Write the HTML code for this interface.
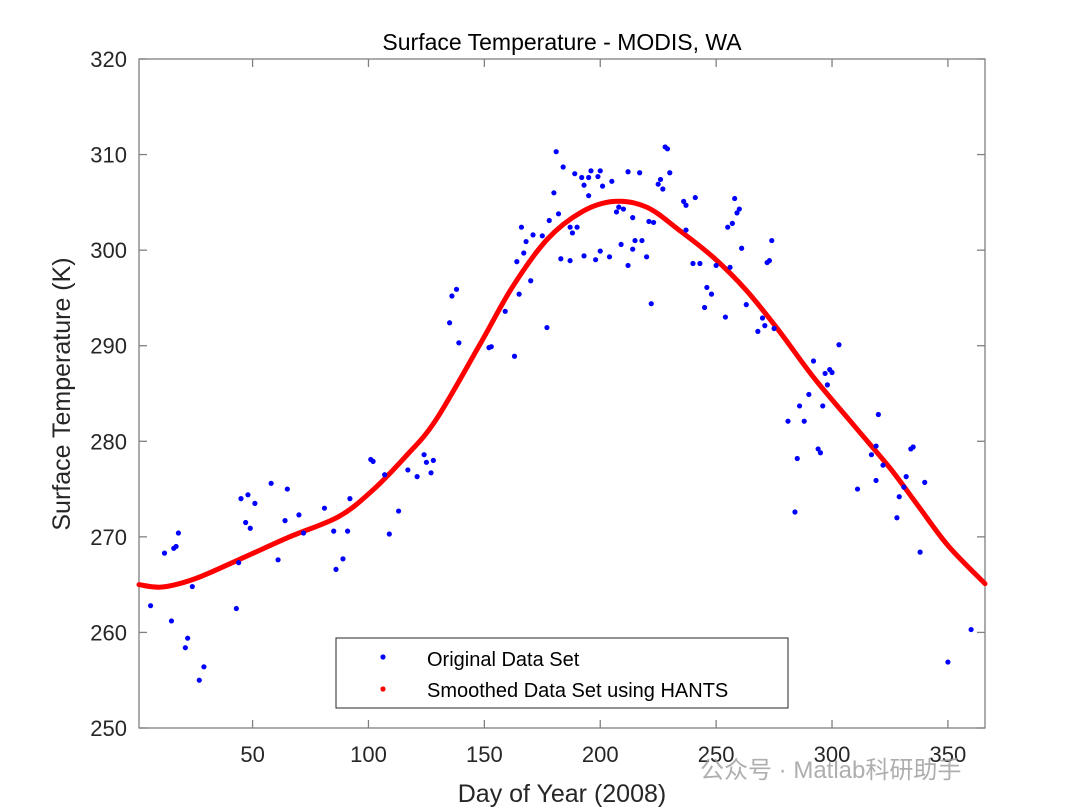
<!DOCTYPE html>
<html><head><meta charset="utf-8"><style>
body{margin:0;background:#fff;}
svg{display:block;font-family:"Liberation Sans",Arial,sans-serif;}
</style></head><body>
<svg id="chart" width="1080" height="812" viewBox="0 0 1080 812">
<g id="plot"></g>
</svg>
<script>
const smoothDays=[1,11,25,44,66,87,101,116,129,148,162,177,192,206,220,234,249,263,277,292,310,325,337,350,366];
const smoothTemps=[265.0,264.75,265.6,267.6,270.0,272.1,274.7,278.4,282.2,290.1,296.1,301.1,304.0,305.1,304.5,302.1,299.2,295.8,291.6,286.7,281.5,277.2,273.3,269.1,265.1];
const origDays=[6,12,15,16,17,18,21,22,24,27,29,43,44,45,47,48,49,51,58,61,64,65,70,72,81,85,86,89,91,92,101,102,107,109,113,117,121,124,125,127,128,135,136,138,139,152,153,159,163,164,165,166,167,168,170,171,175,177,178,180,181,182,183,184,187,187,188,189,190,192,193,193,195,195,196,198,199,200,200,201,204,205,207,208,209,210,212,212,214,214,215,217,218,220,221,222,223,225,226,227,228,229,230,236,237,237,240,241,243,245,246,248,250,254,255,256,257,258,259,260,261,263,268,270,271,272,273,274,275,281,284,285,286,288,290,292,294,295,296,297,298,299,300,303,311,317,319,319,320,322,328,329,331,332,334,335,338,340,350,360];
const origTemps=[262.8,268.3,261.2,268.8,269,270.4,258.4,259.4,264.8,255,256.4,262.5,267.3,274,271.5,274.4,270.9,273.5,275.6,267.6,271.7,275,272.3,270.4,273,270.6,266.6,267.7,270.6,274,278.1,277.9,276.5,270.3,272.7,277,276.3,278.6,277.8,276.7,278,292.4,295.2,295.9,290.3,289.8,289.9,293.6,288.9,298.8,295.4,302.4,299.7,300.9,296.8,301.6,301.5,291.9,303.1,306,310.3,303.8,299.1,308.7,298.9,302.4,301.8,308,302.4,307.6,299.4,306.8,307.6,305.7,308.3,299,307.7,299.9,308.3,306.7,299.3,307.2,304,304.5,300.6,304.3,298.4,308.2,300.1,303.4,301,308.1,301,299.3,303,294.4,302.9,306.9,307.4,306.4,310.8,310.6,308.1,305.1,302.1,304.7,298.6,305.5,298.6,294,296.1,295.4,298.4,293,302.4,298.2,302.8,305.4,303.9,304.3,300.2,294.3,291.5,292.9,292.1,298.7,298.9,301,291.8,282.1,272.6,278.2,283.7,282.1,284.9,288.4,279.2,278.8,283.7,287.1,285.9,287.5,287.2,290.1,275,278.6,275.9,279.5,282.8,277.5,272,274.2,275.2,276.3,279.2,279.4,268.4,275.7,256.9,260.3];
const xTicks=[50,100,150,200,250,300,350];
const yTicks=[250,260,270,280,290,300,310,320];

const L=139,R=985,T=59,B=728,XMIN=1,XMAX=366,YMIN=250,YMAX=320;
const xs=d=>L+(d-XMIN)/(XMAX-XMIN)*(R-L);
const ys=v=>B-(v-YMIN)/(YMAX-YMIN)*(B-T);
const NS="http://www.w3.org/2000/svg";
const g=document.getElementById('plot');
function mk(tag,attrs,parent){const e=document.createElementNS(NS,tag);for(const k in attrs)e.setAttribute(k,attrs[k]);(parent||g).appendChild(e);return e;}

const box=mk('rect',{x:L,y:T,width:R-L,height:B-T,fill:'#fff',stroke:'#808080','stroke-width':1.3});



xTicks.forEach(t=>{
  const x=xs(t);
  const tb=mk('line',{x1:x,x2:x,y1:B,y2:B-8,stroke:'#808080','stroke-width':1.3});
  
  
  const tt=mk('line',{x1:x,x2:x,y1:T,y2:T+8,stroke:'#808080','stroke-width':1.3});
  
  
  const lb=mk('text',{x:x,y:B+34,'text-anchor':'middle','font-size':22,fill:'#262626'});
  lb.textContent=t;
  
  
});
yTicks.forEach(t=>{
  const y=ys(t);
  const tl=mk('line',{x1:L,x2:L+8,y1:y,y2:y,stroke:'#808080','stroke-width':1.3});
  
  
  const tr=mk('line',{x1:R,x2:R-8,y1:y,y2:y,stroke:'#808080','stroke-width':1.3});
  
  
  const lb=mk('text',{x:127,y:y+8,'text-anchor':'end','font-size':22,fill:'#262626'});
  lb.textContent=t;
  
  
});

const pts=smoothDays.map((d,i)=>[xs(d),ys(smoothTemps[i])]);
let dstr='M'+pts[0][0]+','+pts[0][1];
for(let i=0;i<pts.length-1;i++){
  const p0=pts[Math.max(0,i-1)],p1=pts[i],p2=pts[i+1],p3=pts[Math.min(pts.length-1,i+2)];
  const c1=[p1[0]+(p2[0]-p0[0])/6,p1[1]+(p2[1]-p0[1])/6];
  const c2=[p2[0]-(p3[0]-p1[0])/6,p2[1]-(p3[1]-p1[1])/6];
  dstr+=' C'+c1+' '+c2+' '+p2;
}
const curve=mk('path',{d:dstr,fill:'none',stroke:'#ff0000','stroke-width':5,'stroke-linecap':'round'});



origDays.forEach((d,i)=>{
  const c=mk('circle',{cx:xs(d),cy:ys(origTemps[i]),r:2.6,fill:'#0000ff'});
  
  
});

const lg=mk('g',{});


mk('rect',{x:336,y:638,width:452,height:70,fill:'#fff',stroke:'#262626','stroke-width':1},lg);
const d1=mk('circle',{cx:383,cy:657,r:2.6,fill:'#0000ff'},lg);


const t1=mk('text',{x:427,y:666,'font-size':20,fill:'#000'},lg);
t1.textContent='Original Data Set';


const d2=mk('circle',{cx:383,cy:689,r:2.6,fill:'#ff0000'},lg);


const t2=mk('text',{x:427,y:697,'font-size':20,fill:'#000'},lg);
t2.textContent='Smoothed Data Set using HANTS';



const title=mk('text',{x:562,y:50,'text-anchor':'middle','font-size':23,fill:'#000'});
title.textContent='Surface Temperature - MODIS, WA';


const xl=mk('text',{x:562,y:802,'text-anchor':'middle','font-size':25,fill:'#262626'});
xl.textContent='Day of Year (2008)';


const yl=mk('text',{x:70,y:394,'text-anchor':'middle','font-size':25,fill:'#262626',transform:'rotate(-90 70 394)'});
yl.textContent='Surface Temperature (K)';


const wm=mk('text',{x:700,y:778,'font-size':24,fill:'#9a9a9a',opacity:0.8});
wm.setAttribute('font-family','"Liberation Sans","Noto Sans CJK SC",sans-serif');
wm.textContent='公众号 · Matlab科研助手';


</script>
</body></html>
